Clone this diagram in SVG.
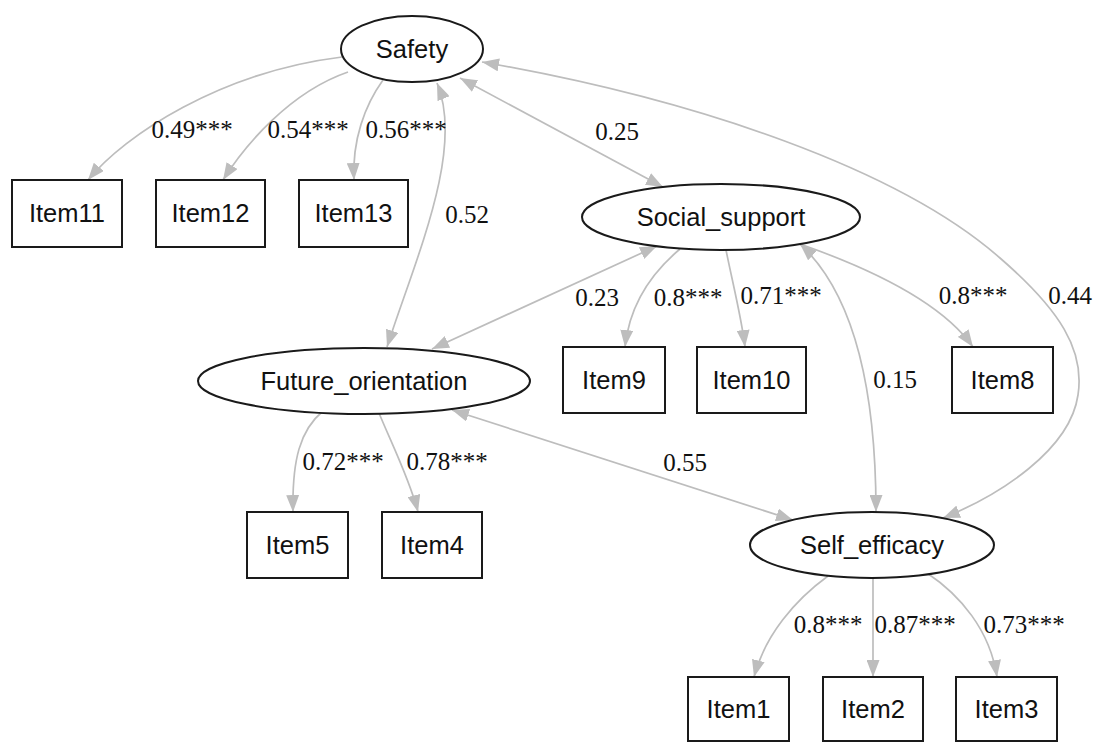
<svg xmlns="http://www.w3.org/2000/svg" width="1093" height="742" viewBox="0 0 1093 742">
<defs>
<style>
.node ellipse, .node rect { fill: #ffffff; stroke: #1a1a1a; stroke-width: 2; }
.node text { font-family: "Liberation Sans", Arial, sans-serif; font-size: 25.5px; fill: #111; text-anchor: middle; }
.edges path { fill: none; stroke: #bdbdbd; stroke-width: 1.7; }
.lbl { font-family: "Liberation Serif", "Times New Roman", serif; font-size: 25px; fill: #111; text-anchor: middle; }
</style>
<marker id="ah" markerUnits="userSpaceOnUse" markerWidth="17" markerHeight="13" refX="17" refY="6.5" orient="auto-start-reverse">
<path d="M0,0 L17,6.5 L0,13 z" fill="#bdbdbd"/>
</marker>
</defs>
<rect width="1093" height="742" fill="#ffffff"/>

<g id="connectors" class="edges">
<path id="e-safety-item11" d="M342,57 C220,72 125,135 88,180" marker-end="url(#ah)"/>
<path id="e-safety-item12" d="M348,72 C290,92 245,145 223,180" marker-end="url(#ah)"/>
<path id="e-safety-item13" d="M383,80 C365,105 352,140 354,180" marker-end="url(#ah)"/>
<path id="e-safety-future" d="M437,83 C465,150 415,260 387,347" marker-start="url(#ah)" marker-end="url(#ah)"/>
<path id="e-safety-social" d="M460,78 L663,187" marker-start="url(#ah)" marker-end="url(#ah)"/>
<path id="e-safety-self" d="M482,62 C700,100 900,170 1000,258 C1060,310 1085,350 1078,395 C1070,450 1000,495 943,518" marker-start="url(#ah)" marker-end="url(#ah)"/>
<path id="e-social-item9" d="M680,249 C655,270 630,300 625,347" marker-end="url(#ah)"/>
<path id="e-social-item10" d="M726,250 C732,280 742,320 745,347" marker-end="url(#ah)"/>
<path id="e-social-item8" d="M800,244 C860,265 940,300 973,347" marker-end="url(#ah)"/>
<path id="e-social-future" d="M657,246 L432,349" marker-start="url(#ah)" marker-end="url(#ah)"/>
<path id="e-social-self" d="M800,244 C850,290 876,380 876,512" marker-start="url(#ah)" marker-end="url(#ah)"/>
<path id="e-future-item5" d="M323,411 C300,430 292,460 293,512" marker-end="url(#ah)"/>
<path id="e-future-item4" d="M379,413 C390,440 410,480 418,512" marker-end="url(#ah)"/>
<path id="e-future-self" d="M452,410 L793,520" marker-start="url(#ah)" marker-end="url(#ah)"/>
<path id="e-self-item1" d="M828,576 C795,600 765,635 754,677" marker-end="url(#ah)"/>
<path id="e-self-item2" d="M873,578 L873,677" marker-end="url(#ah)"/>
<path id="e-self-item3" d="M927,573 C960,595 990,630 997,677" marker-end="url(#ah)"/>
</g>

<g id="edge-labels">
<text class="lbl" x="192" y="138">0.49***</text>
<text class="lbl" x="308" y="138">0.54***</text>
<text class="lbl" x="406" y="138">0.56***</text>
<text class="lbl" x="467" y="223">0.52</text>
<text class="lbl" x="617" y="140">0.25</text>
<text class="lbl" x="597" y="306">0.23</text>
<text class="lbl" x="688" y="306">0.8***</text>
<text class="lbl" x="781" y="304">0.71***</text>
<text class="lbl" x="973" y="304">0.8***</text>
<text class="lbl" x="1070" y="304">0.44</text>
<text class="lbl" x="895" y="388">0.15</text>
<text class="lbl" x="343" y="470">0.72***</text>
<text class="lbl" x="447" y="470">0.78***</text>
<text class="lbl" x="685" y="471">0.55</text>
<text class="lbl" x="828" y="633">0.8***</text>
<text class="lbl" x="915" y="633">0.87***</text>
<text class="lbl" x="1024" y="633">0.73***</text>
</g>

<g id="node-safety" class="node"><ellipse cx="412" cy="49" rx="71" ry="33"/><text x="412" y="58">Safety</text></g>
<g id="node-social" class="node"><ellipse cx="721" cy="217" rx="139" ry="33"/><text x="721" y="226">Social_support</text></g>
<g id="node-future" class="node"><ellipse cx="364" cy="381" rx="166" ry="33"/><text x="364" y="390">Future_orientation</text></g>
<g id="node-self" class="node"><ellipse cx="872" cy="545" rx="122" ry="33"/><text x="872" y="554">Self_efficacy</text></g>

<g id="node-item11" class="node"><rect x="12" y="180" width="110" height="67"/><text x="67" y="222">Item11</text></g>
<g id="node-item12" class="node"><rect x="156" y="180" width="109" height="67"/><text x="210.5" y="222">Item12</text></g>
<g id="node-item13" class="node"><rect x="299" y="180" width="109" height="67"/><text x="353.5" y="222">Item13</text></g>
<g id="node-item9" class="node"><rect x="563" y="347" width="102" height="66"/><text x="614" y="389">Item9</text></g>
<g id="node-item10" class="node"><rect x="697" y="347" width="109" height="66"/><text x="751.5" y="389">Item10</text></g>
<g id="node-item8" class="node"><rect x="952" y="347" width="101" height="66"/><text x="1002.5" y="389">Item8</text></g>
<g id="node-item5" class="node"><rect x="247" y="512" width="101" height="66"/><text x="297.5" y="554">Item5</text></g>
<g id="node-item4" class="node"><rect x="382" y="512" width="100" height="66"/><text x="432" y="554">Item4</text></g>
<g id="node-item1" class="node"><rect x="688" y="677" width="101" height="64"/><text x="738.5" y="718">Item1</text></g>
<g id="node-item2" class="node"><rect x="823" y="677" width="100" height="64"/><text x="873" y="718">Item2</text></g>
<g id="node-item3" class="node"><rect x="956" y="677" width="101" height="64"/><text x="1006.5" y="718">Item3</text></g>
</svg>
